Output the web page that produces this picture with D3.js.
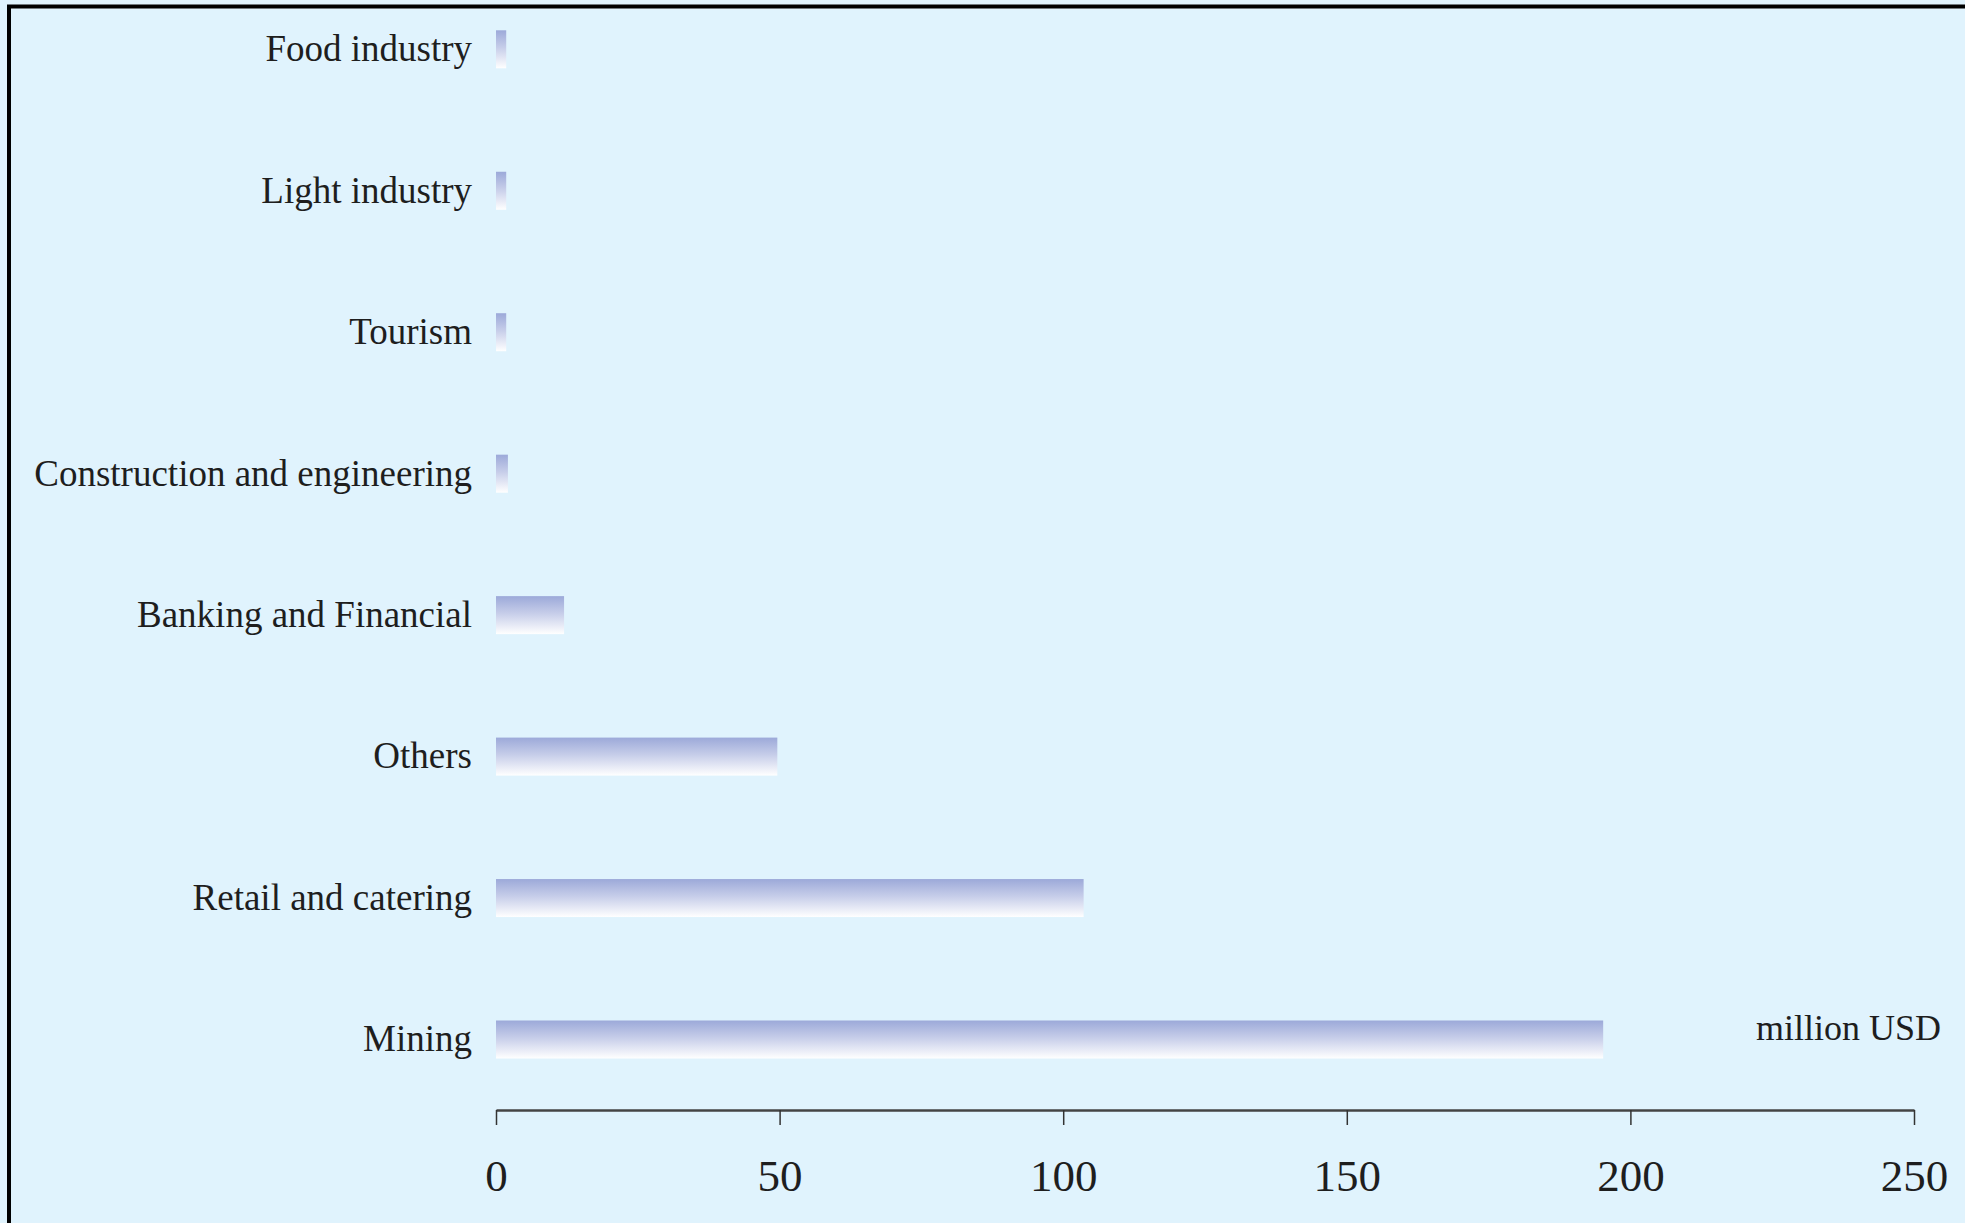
<!DOCTYPE html>
<html>
<head>
<meta charset="utf-8">
<script src="https://cdn.jsdelivr.net/npm/d3@7"></script>
<style>
  html, body { margin: 0; padding: 0; background: #e0f3fd; overflow: hidden; }
  svg { display: block; }
  text { font-family: "Liberation Serif", "Times New Roman", serif; fill: #1e1e1e; }
</style>
</head>
<body>
<svg id="chart" width="1965" height="1223"></svg>
<script>
// Investment by sector (million USD), listed top to bottom
const categories = [
  "Food industry",
  "Light industry",
  "Tourism",
  "Construction and engineering",
  "Banking and Financial",
  "Others",
  "Retail and catering",
  "Mining"
];
const values = [1.8, 1.8, 1.8, 2.1, 12, 49.6, 103.6, 195.2];
const tickValues = [0, 50, 100, 150, 200, 250];
const unitLabel = "million USD";

const W = 1965, H = 1223;
const serif = '"Liberation Serif", "Times New Roman", serif';
const svg = d3.select("#chart");

// background and frame
svg.append("rect").attr("width", W).attr("height", H).attr("fill", "#e0f3fd");
svg.append("rect")
  .attr("x", 9).attr("y", 6.5)
  .attr("width", W + 20).attr("height", H + 20)
  .attr("fill", "none").attr("stroke", "#000").attr("stroke-width", 4);

const x = d3.scaleLinear().domain([0, 250]).range([496, 1914]);
const y = d3.scaleBand().domain(categories).range([30.3, 1058.5])
  .paddingInner(0.7314).paddingOuter(0);

// vertical gradient for the bars
const defs = svg.append("defs");
const grad = defs.append("linearGradient")
  .attr("id", "barGrad").attr("x1", 0).attr("y1", 0).attr("x2", 0).attr("y2", 1);
grad.append("stop").attr("offset", "0%").attr("stop-color", "#9ca9d9");
grad.append("stop").attr("offset", "45%").attr("stop-color", "#c6cde9");
grad.append("stop").attr("offset", "100%").attr("stop-color", "#ffffff");

const data = categories.map((c, i) => ({ c, v: values[i] }));

svg.append("g").selectAll("rect")
  .data(data)
  .join("rect")
  .attr("x", x(0))
  .attr("y", d => y(d.c))
  .attr("width", d => x(d.v) - x(0))
  .attr("height", y.bandwidth())
  .attr("fill", "url(#barGrad)");

// category labels
svg.append("g").selectAll("text")
  .data(data)
  .join("text")
  .attr("x", x(0) - 24)
  .attr("y", d => y(d.c) + y.bandwidth() / 2)
  .attr("dy", "0.32em")
  .attr("text-anchor", "end")
  .style("font-family", serif)
  .style("font-size", "37px")
  .text(d => d.c);

// bottom value axis
const axis = d3.axisBottom(x)
  .tickValues(tickValues)
  .tickSize(15)
  .tickSizeOuter(0)
  .tickPadding(34);

const gAxis = svg.append("g")
  .attr("transform", "translate(0,1110)")
  .call(axis)
  .attr("font-family", serif)
  .attr("font-size", 45);
gAxis.select(".domain").attr("stroke", "#444").attr("stroke-width", 2.5);
gAxis.selectAll(".tick line").attr("stroke", "#333").attr("stroke-width", 1.5);
gAxis.selectAll(".tick text")
  .style("font-family", serif)
  .style("font-size", "45px")
  .attr("fill", "#1e1e1e");

// unit label
svg.append("text")
  .attr("x", 1941)
  .attr("y", 1040)
  .attr("text-anchor", "end")
  .style("font-family", serif)
  .style("font-size", "36px")
  .text(unitLabel);
</script>
</body>
</html>
